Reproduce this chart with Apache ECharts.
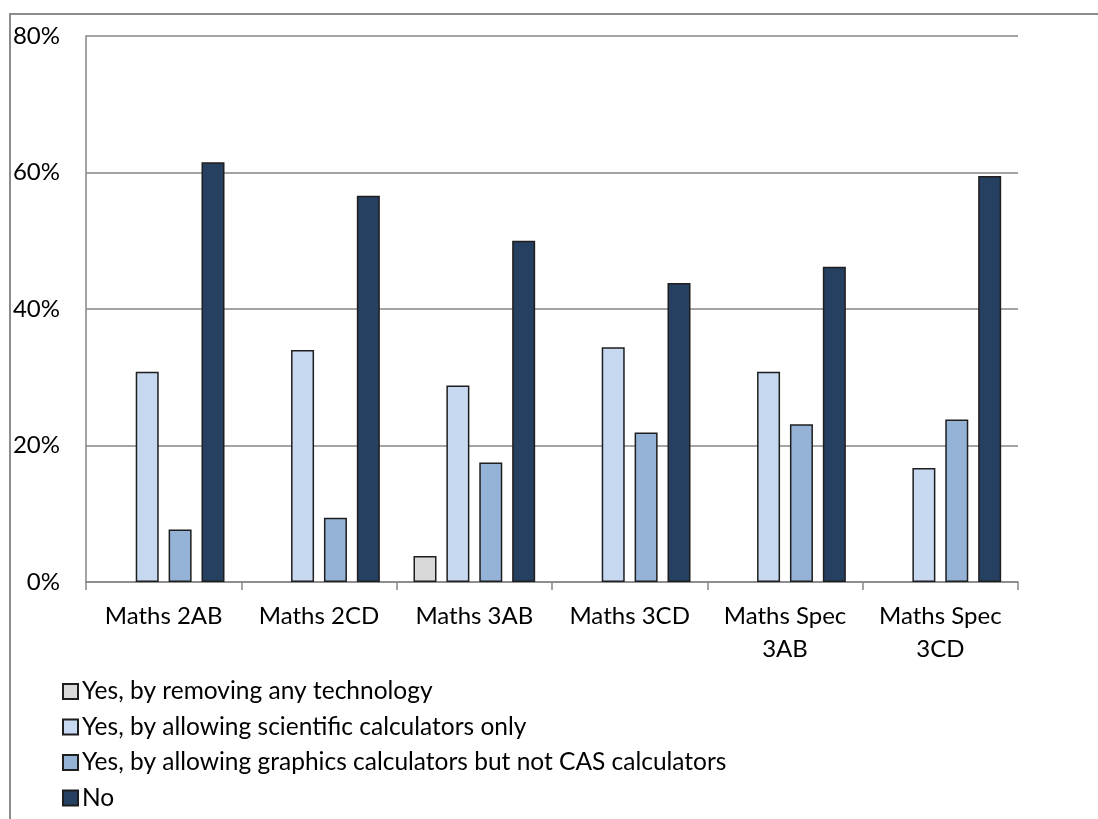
<!DOCTYPE html>
<html>
<head>
<meta charset="utf-8">
<script src="https://cdn.jsdelivr.net/npm/echarts@6/dist/echarts.min.js"></script>
<style>
  html, body { margin: 0; padding: 0; background: #fff; }
  #frame {
    position: absolute; left: 9px; top: 13px; width: 1100px; height: 820px;
    border-top: 2px solid #8c8c8c; border-left: 2px solid #8c8c8c;
  }
  #chart { position: absolute; left: 0; top: 0; width: 1098px; height: 819px; }
</style>
</head>
<body>
<div id="frame"></div>
<div id="chart"></div>
<script>
  const categories = ['Maths 2AB', 'Maths 2CD', 'Maths 3AB', 'Maths 3CD', 'Maths Spec\n3AB', 'Maths Spec\n3CD']
  const seriesNames = [
    'Yes, by removing any technology',
    'Yes, by allowing scientific calculators only',
    'Yes, by allowing graphics calculators but not CAS calculators',
    'No'
  ]
  const removeTech = [0, 0, 3.8, 0, 0, 0]
  const scientificOnly = [30.8, 34.0, 28.8, 34.4, 30.8, 16.7]
  const graphicsNotCas = [7.7, 9.4, 17.5, 21.9, 23.1, 23.8]
  const noChange = [61.5, 56.6, 50.0, 43.8, 46.2, 59.5]
  const colors = ['#d9d9d9', '#c6d9f1', '#95b3d7', '#254061']

  const values = [removeTech, scientificOnly, graphicsNotCas, noChange]
  const font = 'Lato, "Open Sans", sans-serif'

  const chart = echarts.init(document.getElementById('chart'))
  chart.setOption({
    animation: false,
    textStyle: { fontFamily: font },
    grid: { left: 86, right: 80, top: 36, bottom: 237 },
    legend: {
      orient: 'vertical',
      left: 57,
      top: 674,
      icon: 'rect',
      itemWidth: 15,
      itemHeight: 15,
      itemGap: 10.5,
      textStyle: { fontSize: 24.5, lineHeight: 24, color: '#000', fontFamily: font, padding: [0, 0, 0, -1] },
      data: seriesNames
    },
    xAxis: {
      type: 'category',
      data: categories,
      axisLine: { lineStyle: { color: '#868686', width: 1.5 } },
      axisTick: { show: true, length: 8, lineStyle: { color: '#868686', width: 1.5 } },
      axisLabel: { interval: 0, fontSize: 24, color: '#000', margin: 18, lineHeight: 33 }
    },
    yAxis: {
      type: 'value',
      min: 0,
      max: 80,
      interval: 20,
      axisLine: { show: true, lineStyle: { color: '#868686', width: 1.5 } },
      axisTick: { show: false },
      splitLine: { lineStyle: { color: '#868686', width: 1.5 } },
      axisLabel: { fontSize: 24, color: '#000', margin: 26, formatter: '{value}%' }
    },
    series: seriesNames.map((name, i) => ({
      name,
      type: 'bar',
      data: values[i].map(v => (v === 0 ? '-' : v)),
      barWidth: 23,
      barGap: '43%',
      itemStyle: { color: colors[i], borderColor: '#1e1e1e', borderWidth: 1.5 }
    }))
  })
</script>
</body>
</html>
